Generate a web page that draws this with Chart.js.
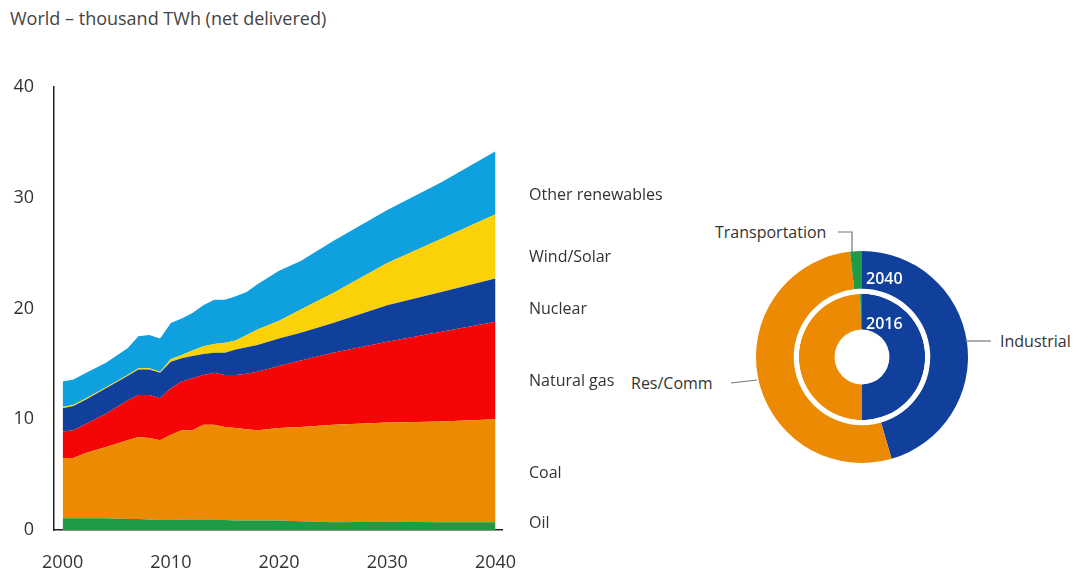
<!DOCTYPE html>
<html>
<head>
<meta charset="utf-8">
<script src="https://cdn.jsdelivr.net/npm/chart.js@4.4.1/dist/chart.umd.min.js"></script>
<style>
  body { margin: 0; background: #fff; font-family: "Open Sans", sans-serif; }
  #wrap { position: relative; width: 1074px; height: 574px; overflow: hidden; }
  #areaChart { position: absolute; left: 0; top: 0; }
  #donut { position: absolute; left: 750px; top: 245px; }
  .title { position: absolute; left: 10px; top: 5px; font-size: 18px; color: #444; line-height: 26px; }
  .lbl { position: absolute; font-size: 16px; color: #333; white-space: nowrap; line-height: 20px; }
  .ring { position: absolute; font-size: 16px; color: #fff; font-weight: 600; line-height: 20px; }
  svg { position: absolute; left: 0; top: 0; }
</style>
</head>
<body>
<div id="wrap">
  <div class="title">World – thousand TWh (net delivered)</div>
  <canvas id="areaChart" width="560" height="574"></canvas>
  <canvas id="donut" width="224" height="224"></canvas>

  <div class="lbl" style="left:529px;top:184px">Other renewables</div>
  <div class="lbl" style="left:529px;top:246px">Wind/Solar</div>
  <div class="lbl" style="left:529px;top:298px">Nuclear</div>
  <div class="lbl" style="left:529px;top:370px">Natural gas</div>
  <div class="lbl" style="left:529px;top:462px">Coal</div>
  <div class="lbl" style="left:529px;top:512px">Oil</div>

  <div class="lbl" style="left:715px;top:222px">Transportation</div>
  <div class="lbl" style="left:631px;top:373px">Res/Comm</div>
  <div class="lbl" style="left:1000px;top:331px">Industrial</div>
  <div class="ring" style="left:866px;top:268px">2040</div>
  <div class="ring" style="left:866px;top:313px">2016</div>

  <svg width="1074" height="574">
    <polyline points="838,232 852,232 852,254" fill="none" stroke="#777" stroke-width="1.2"/>
    <line x1="731" y1="383" x2="757" y2="380" stroke="#777" stroke-width="1.2"/>
    <line x1="965" y1="341" x2="991" y2="341" stroke="#777" stroke-width="1.2"/>
  </svg>
</div>

<script>
// years
var years = [2000, 2001, 2002, 2004, 2006, 2007, 2008, 2009, 2010, 2011, 2012, 2013, 2014, 2015, 2016, 2017, 2018, 2020, 2022, 2025, 2030, 2035, 2040];

// thousand TWh per source (not cumulative)
var oil        = [1.05, 1.05, 1.05, 1.05, 1.0, 1.0, 0.95, 0.9, 0.9, 0.95, 0.95, 0.95, 0.9, 0.9, 0.85, 0.85, 0.85, 0.85, 0.8, 0.7, 0.75, 0.7, 0.7];
var coal       = [5.45, 5.45, 5.85, 6.45, 7.1, 7.4, 7.35, 7.2, 7.7, 8.05, 8.05, 8.55, 8.6, 8.4, 8.35, 8.25, 8.15, 8.35, 8.5, 8.8, 8.95, 9.1, 9.3];
var gas        = [2.4, 2.5, 2.6, 3.0, 3.6, 3.8, 3.9, 3.8, 4.2, 4.4, 4.7, 4.5, 4.7, 4.7, 4.8, 5.0, 5.3, 5.6, 6.0, 6.5, 7.3, 8.1, 8.8];
var nuclear    = [2.1, 2.2, 2.2, 2.3, 2.2, 2.3, 2.3, 2.3, 2.4, 2.1, 2.0, 1.9, 1.8, 2.0, 2.3, 2.4, 2.4, 2.5, 2.5, 2.7, 3.3, 3.6, 3.9];
var windSolar  = [0.1, 0.1, 0.1, 0.1, 0.1, 0.1, 0.1, 0.1, 0.25, 0.3, 0.5, 0.7, 0.8, 0.9, 0.8, 1.1, 1.4, 1.6, 2.1, 2.7, 3.8, 4.8, 5.8];
var otherRenew = [2.3, 2.3, 2.3, 2.2, 2.4, 2.9, 3.0, 3.0, 3.25, 3.3, 3.4, 3.7, 4.0, 3.9, 4.0, 3.9, 4.1, 4.5, 4.4, 4.7, 4.8, 5.1, 5.7];

var xTicks = [2000, 2010, 2020, 2030, 2040];
var yTicks = [0, 10, 20, 30, 40];

// electricity demand by sector, % share
var sectors  = ["Industrial", "Res/Comm", "Transportation"];
var share2040 = [45.5, 52.7, 1.8];
var share2016 = [50, 49.5, 0.5];

var colors = {
    oil: "#1f9a45",
    coal: "#ec8a03",
    gas: "#f50505",
    nuclear: "#10409c",
    wind: "#fbd207",
    other: "#0ea0df"
};
var sectorColors = [colors.nuclear, colors.coal, colors.oil];

function pts(arr) {
    return arr.map(function (v, i) { return { x: years[i], y: v }; });
}

function area(label, arr, col, fill) {
    return {
        label: label,
        data: pts(arr),
        backgroundColor: col,
        borderColor: col,
        borderWidth: 0,
        pointRadius: 0,
        tension: 0,
        fill: fill
    };
}

var tickFont = { family: "Open Sans", size: 18 };

new Chart(document.getElementById("areaChart"), {
    type: "line",
    data: {
        datasets: [
            area("Oil", oil, colors.oil, "origin"),
            area("Coal", coal, colors.coal, "-1"),
            area("Natural gas", gas, colors.gas, "-1"),
            area("Nuclear", nuclear, colors.nuclear, "-1"),
            area("Wind/Solar", windSolar, colors.wind, "-1"),
            area("Other renewables", otherRenew, colors.other, "-1")
        ]
    },
    options: {
        responsive: false,
        animation: false,
        layout: { padding: { top: 87, right: 58, bottom: 0, left: 0 } },
        plugins: { legend: { display: false }, tooltip: { enabled: false } },
        scales: {
            x: {
                type: "linear",
                min: 1999.2,
                max: 2040.6,
                afterBuildTicks: function (s) { s.ticks = xTicks.map(function (v) { return { value: v }; }); },
                afterFit: function (s) { s.height = 44; },
                grid: { display: false, drawTicks: false },
                border: { display: true, color: "#222", width: 1.5 },
                ticks: { font: tickFont, color: "#333", padding: 22, maxRotation: 0,
                    callback: function (v) { return String(v); } }
            },
            y: {
                stacked: true,
                min: 0,
                max: 40,
                afterBuildTicks: function (s) { s.ticks = yTicks.map(function (v) { return { value: v }; }); },
                afterFit: function (s) { s.width = 54; },
                grid: { display: false, drawTicks: false },
                border: { display: true, color: "#222", width: 1.5 },
                ticks: { font: tickFont, color: "#333", padding: 20 }
            }
        }
    }
});

new Chart(document.getElementById("donut"), {
    type: "doughnut",
    data: {
        labels: sectors,
        datasets: [
            { data: share2040, backgroundColor: sectorColors, borderWidth: 0, weight: 37 },
            { data: [1], backgroundColor: ["#fff"], borderWidth: 0, weight: 5 },
            { data: share2016, backgroundColor: sectorColors, borderWidth: 0, weight: 35 }
        ]
    },
    options: {
        responsive: false,
        animation: false,
        radius: 106,
        cutout: 29,
        plugins: { legend: { display: false }, tooltip: { enabled: false } }
    }
});
</script>
</body>
</html>
